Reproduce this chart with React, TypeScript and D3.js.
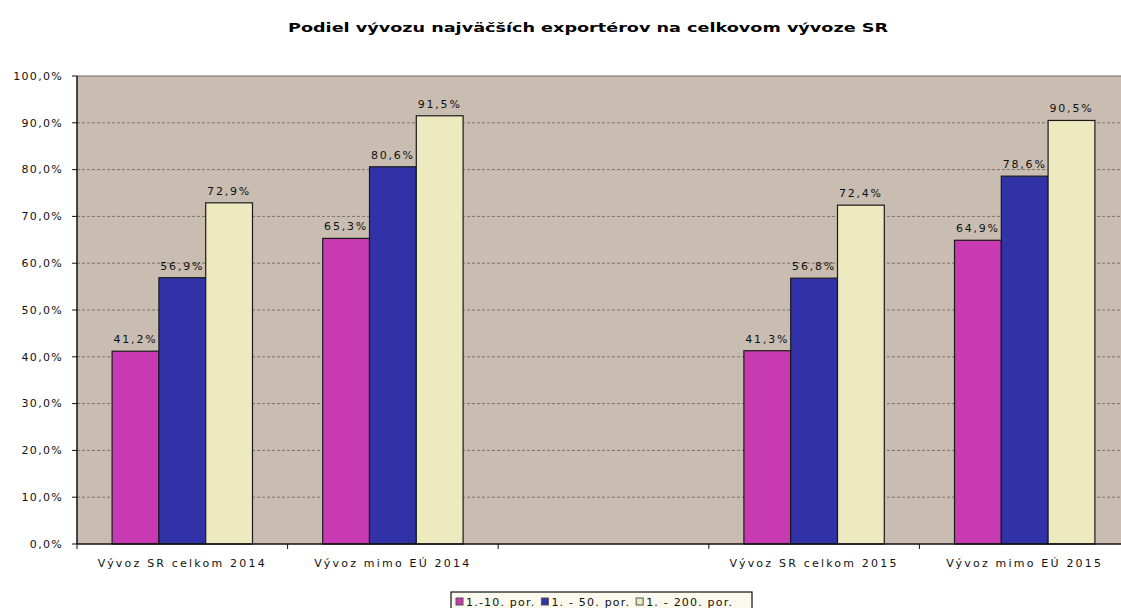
import React, { useRef, useEffect } from 'react';
import * as d3 from 'd3';

const categories = ['Vývoz SR celkom 2014', 'Vývoz mimo EÚ 2014', '', 'Vývoz SR celkom 2015', 'Vývoz mimo EÚ 2015'];
const seriesNames = ['1.-10. por.', '1. - 50. por.', '1. - 200. por.'];
const seriesColors = ['#C83AB2', '#3232A8', '#EDEAC0'];
const top10 = [41.2, 65.3, null, 41.3, 64.9];
const top50 = [56.9, 80.6, null, 56.8, 78.6];
const top200 = [72.9, 91.5, null, 72.4, 90.5];
const yTicks = [0, 10, 20, 30, 40, 50, 60, 70, 80, 90, 100];

const W = 1121;
const H = 608;
const FONT = '"DejaVu Sans", Verdana, sans-serif';

const fmt = (v: number) => v.toFixed(1).replace('.', ',') + '%';

const App = () => {
  const svgRef = useRef<SVGSVGElement>(null);

  useEffect(() => {
    const svg = d3.select(svgRef.current);
    svg.selectAll('*').remove();

    const margin = { top: 76, right: -9, bottom: 64, left: 77 };
    const innerW = W - margin.left - margin.right;
    const innerH = H - margin.top - margin.bottom;
    const values = [top10, top50, top200];

    const x0 = d3.scaleBand<string>().domain(categories).range([0, innerW]).padding(0);
    const x1 = d3.scaleBand<string>().domain(seriesNames).range([0, x0.bandwidth()])
      .paddingInner(0).paddingOuter(0.75);
    const y = d3.scaleLinear().domain([0, 100]).range([innerH, 0]);

    // title
    svg.append('text')
      .attr('x', 588).attr('y', 32)
      .attr('text-anchor', 'middle')
      .attr('font-family', FONT).attr('font-size', 12).attr('font-weight', 'bold')
      .attr('textLength', 600).attr('lengthAdjust', 'spacingAndGlyphs')
      .text('Podiel vývozu najväčších exportérov na celkovom vývoze SR');

    const g = svg.append('g').attr('transform', `translate(${margin.left},${margin.top})`);

    // plot background
    g.append('rect')
      .attr('x', 0).attr('y', 0).attr('width', innerW).attr('height', innerH)
      .attr('fill', '#C8BDB0');

    // grid lines
    g.selectAll('.grid')
      .data(yTicks.filter(t => t > 0))
      .enter().append('line')
      .attr('x1', 0).attr('x2', innerW)
      .attr('y1', d => y(d)).attr('y2', d => y(d))
      .attr('stroke', d => (d === 100 ? '#6f675d' : '#7c7366'))
      .attr('stroke-width', 1)
      .attr('stroke-dasharray', d => (d === 100 ? null : '3,2'));

    // bars
    values.forEach((vals, si) => {
      const name = seriesNames[si];
      categories.forEach((cat, ci) => {
        const v = vals[ci];
        if (v == null) return;
        const bx = (x0(cat) ?? 0) + (x1(name) ?? 0);
        g.append('rect')
          .attr('x', bx).attr('y', y(v))
          .attr('width', x1.bandwidth()).attr('height', innerH - y(v))
          .attr('fill', seriesColors[si])
          .attr('stroke', '#1a1a1a').attr('stroke-width', 1.2);
        g.append('text')
          .attr('x', bx + x1.bandwidth() / 2).attr('y', y(v) - 8)
          .attr('text-anchor', 'middle')
          .attr('font-family', FONT).attr('font-size', 11)
          .attr('letter-spacing', 1.8)
          .attr('fill', '#111')
          .text(fmt(v));
      });
    });

    // y axis
    g.append('line')
      .attr('x1', 0).attr('x2', 0).attr('y1', 0).attr('y2', innerH)
      .attr('stroke', '#111').attr('stroke-width', 1.5);
    yTicks.forEach(t => {
      g.append('line')
        .attr('x1', -5).attr('x2', 0).attr('y1', y(t)).attr('y2', y(t))
        .attr('stroke', '#111');
      g.append('text')
        .attr('x', -14).attr('y', y(t))
        .attr('dy', '0.35em')
        .attr('text-anchor', 'end')
        .attr('font-family', FONT).attr('font-size', 11)
        .attr('letter-spacing', 1.3)
        .attr('fill', '#111')
        .text(fmt(t));
    });

    // x axis
    g.append('line')
      .attr('x1', 0).attr('x2', innerW).attr('y1', innerH).attr('y2', innerH)
      .attr('stroke', '#111').attr('stroke-width', 1.5);
    categories.forEach(cat => {
      const cx = x0(cat) ?? 0;
      g.append('line')
        .attr('x1', cx).attr('x2', cx).attr('y1', innerH).attr('y2', innerH + 5)
        .attr('stroke', '#111');
      if (cat) {
        g.append('text')
          .attr('x', cx + x0.bandwidth() / 2).attr('y', innerH + 23)
          .attr('text-anchor', 'middle')
          .attr('font-family', FONT).attr('font-size', 11)
          .attr('letter-spacing', 2.2)
          .attr('fill', '#111')
          .text(cat);
      }
    });

    // legend
    const legend = svg.append('g').attr('transform', 'translate(451,592)');
    legend.append('rect')
      .attr('x', 0).attr('y', 0).attr('width', 301).attr('height', 24)
      .attr('fill', '#FBF9EE').attr('stroke', '#111').attr('stroke-width', 1.2);
    let lx = 5;
    seriesNames.forEach((name, i) => {
      legend.append('rect')
        .attr('x', lx).attr('y', 6).attr('width', 7).attr('height', 7)
        .attr('fill', seriesColors[i]).attr('stroke', '#555').attr('stroke-width', 1);
      const t = legend.append('text')
        .attr('x', lx + 10).attr('y', 14)
        .attr('font-family', FONT).attr('font-size', 11)
        .attr('letter-spacing', 1.2)
        .attr('fill', '#111')
        .text(name);
      const len = (t.node() as SVGTextElement).getComputedTextLength();
      lx += 10 + len + 6;
    });
  }, []);

  return (
    <svg
      ref={svgRef}
      width={W}
      height={H}
      style={{ position: 'absolute', left: 0, top: 0, background: '#fff' }}
    />
  );
};

export default App;
